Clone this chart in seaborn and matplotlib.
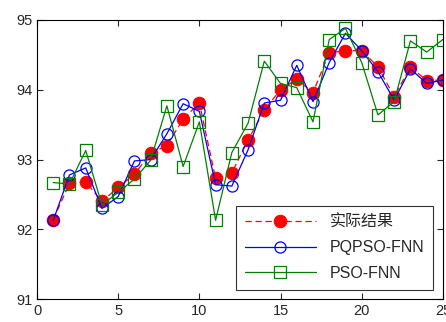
import matplotlib
matplotlib.use('Agg')
import matplotlib.pyplot as plt
import seaborn as sns

# sample index
idx = list(range(1, 26))

actual = [92.14, 92.66, 92.68, 92.40, 92.60, 92.79, 93.09, 93.20, 93.58, 93.81,
          92.73, 92.81, 93.28, 93.71, 94.00, 94.15, 93.96, 94.53, 94.56, 94.56,
          94.33, 93.90, 94.33, 94.13, 94.14]
pqpso = [92.13, 92.78, 92.88, 92.30, 92.47, 92.98, 93.00, 93.37, 93.80, 93.69,
         92.64, 92.62, 93.14, 93.81, 93.85, 94.35, 93.83, 94.39, 94.81, 94.56,
         94.26, 93.85, 94.30, 94.09, 94.14]
pso = [92.67, 92.65, 93.13, 92.35, 92.53, 92.72, 92.99, 93.77, 92.90, 93.54,
       92.13, 93.10, 93.52, 94.41, 94.09, 94.03, 93.54, 94.72, 94.88, 94.39,
       93.64, 93.83, 94.70, 94.54, 94.72]

labels = ['实际结果', 'PQPSO-FNN', 'PSO-FNN']

sns.set_style('ticks')
plt.rcParams['font.family'] = ['Liberation Sans', 'Noto Sans CJK SC']

fig = plt.figure(figsize=(4.46, 3.22), dpi=100)
ax = fig.add_axes([0.083, 0.071, 0.910, 0.867])

sns.lineplot(x=idx, y=actual, ax=ax, color='red', linestyle=(0, (5, 3)), linewidth=0.9,
             marker='o', markersize=9, markeredgecolor='red', markerfacecolor='red',
             label=labels[0])
sns.lineplot(x=idx, y=pqpso, ax=ax, color='blue', linewidth=0.9,
             marker='o', markersize=8, markeredgecolor='blue', markerfacecolor='none',
             markeredgewidth=0.9, label=labels[1])
sns.lineplot(x=idx, y=pso, ax=ax, color='green', linewidth=0.9,
             marker='s', markersize=8, markeredgecolor='green', markerfacecolor='none',
             markeredgewidth=0.9, label=labels[2])

ax.set_xlim(0, 25)
ax.set_ylim(91, 95)
ax.set_xticks([0, 5, 10, 15, 20, 25])
ax.set_yticks([91, 92, 93, 94, 95])
ax.tick_params(direction='in', top=True, right=True, labelsize=10.5, length=4, width=0.8)
for s in ax.spines.values():
    s.set_color('black')
    s.set_linewidth(0.8)

leg = ax.legend(loc='lower right', fontsize=11.5, handlelength=4.4, frameon=True,
                fancybox=False, edgecolor='black', borderaxespad=0.6,
                labelspacing=0.65, borderpad=0.55, handletextpad=0.9)
leg.get_frame().set_linewidth(0.8)

fig.savefig('out.png', dpi=100)
